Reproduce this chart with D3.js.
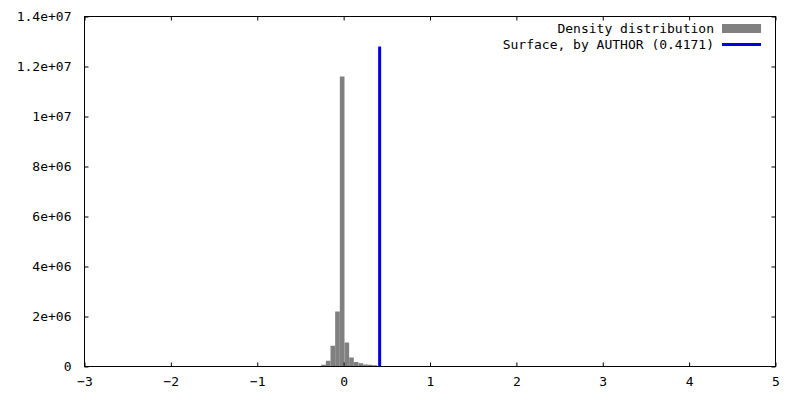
<!DOCTYPE html>
<html>
<head>
<meta charset="utf-8">
<script src="https://cdn.jsdelivr.net/npm/d3@7"></script>
<style>
  html, body { margin: 0; padding: 0; background: #fff; }
  svg { display: block; }
  text { font-family: "DejaVu Sans Mono", monospace; font-size: 13px; fill: #000; }
</style>
</head>
<body>
<svg id="chart" width="800" height="400"></svg>
<script>
// ---- data ----
const binCenters = [-0.233, -0.179, -0.125, -0.071, -0.017, 0.037, 0.091, 0.145, 0.199, 0.253, 0.307, 0.361];
const binWidth = 0.054;
const densityValues = [0.07e6, 0.23e6, 0.83e6, 2.2e6, 11.6e6, 0.96e6, 0.36e6, 0.18e6, 0.13e6, 0.08e6, 0.07e6, 0.05e6];
const surfaceX = [0.4171];
const surfaceY = [12.8e6];
const xTicks = [-3, -2, -1, 0, 1, 2, 3, 4, 5];
const yTicks = [0, 2e6, 4e6, 6e6, 8e6, 10e6, 12e6, 14e6];
const yTickLabels = ["0", "2e+06", "4e+06", "6e+06", "8e+06", "1e+07", "1.2e+07", "1.4e+07"];
const legendLabels = ["Density distribution", "Surface, by AUTHOR (0.4171)"];

const svg = d3.select("#chart");
const L = 84.5, R = 775.5, T = 16.5, B = 366.5;
const x = d3.scaleLinear().domain([-3, 5]).range([L, R]);
const y = d3.scaleLinear().domain([0, 14e6]).range([B, T]);

// bars
svg.append("g").selectAll("rect").data(binCenters).join("rect")
  .attr("x", (d) => x(d - binWidth / 2))
  .attr("width", (d) => x(d + binWidth / 2) - x(d - binWidth / 2))
  .attr("y", (d, i) => y(densityValues[i]))
  .attr("height", (d, i) => y(0) - y(densityValues[i]))
  .attr("fill", "#808080");

// surface line
svg.append("g").selectAll("line").data(surfaceX).join("line")
  .attr("x1", (d) => x(d)).attr("x2", (d) => x(d))
  .attr("y1", y(0)).attr("y2", (d, i) => y(surfaceY[i]))
  .attr("stroke", "#0000dd").attr("stroke-width", 3);

// axes with inward ticks, mirrored
const tickLen = 4;
const axB = svg.append("g").attr("transform", `translate(0,${B})`)
  .call(d3.axisBottom(x).tickValues(xTicks).tickSize(-tickLen).tickPadding(10).tickFormat(d3.format("d")));
const axT = svg.append("g").attr("transform", `translate(0,${T})`)
  .call(d3.axisTop(x).tickValues(xTicks).tickSize(-tickLen).tickFormat(""));
const axL = svg.append("g").attr("transform", `translate(${L},0)`)
  .call(d3.axisLeft(y).tickValues(yTicks).tickSize(-tickLen).tickPadding(13).tickFormat((d, i) => yTickLabels[i]));
const axR = svg.append("g").attr("transform", `translate(${R},0)`)
  .call(d3.axisRight(y).tickValues(yTicks).tickSize(-tickLen).tickFormat(""));
[axB, axT, axL, axR].forEach(g => {
  g.select(".domain").remove();
  g.selectAll("line").attr("stroke", "#000");
  g.selectAll("text").style("font-family", "DejaVu Sans Mono, monospace").style("font-size", "13px").attr("fill", "#000");
});

// border
svg.append("rect").attr("x", L).attr("y", T).attr("width", R - L).attr("height", B - T)
  .attr("fill", "none").attr("stroke", "#000").attr("stroke-width", 1);

// legend
const lg = svg.append("g");
lg.append("text").attr("x", 714).attr("y", 28).attr("dy", "0.35em").attr("text-anchor", "end").text(legendLabels[0]);
lg.append("rect").attr("x", 722).attr("y", 24).attr("width", 39).attr("height", 9).attr("fill", "#808080");
lg.append("text").attr("x", 714).attr("y", 44.5).attr("dy", "0.35em").attr("text-anchor", "end").text(legendLabels[1]);
lg.append("line").attr("x1", 722).attr("x2", 761).attr("y1", 44.5).attr("y2", 44.5)
  .attr("stroke", "#0000dd").attr("stroke-width", 3);
</script>
</body>
</html>
